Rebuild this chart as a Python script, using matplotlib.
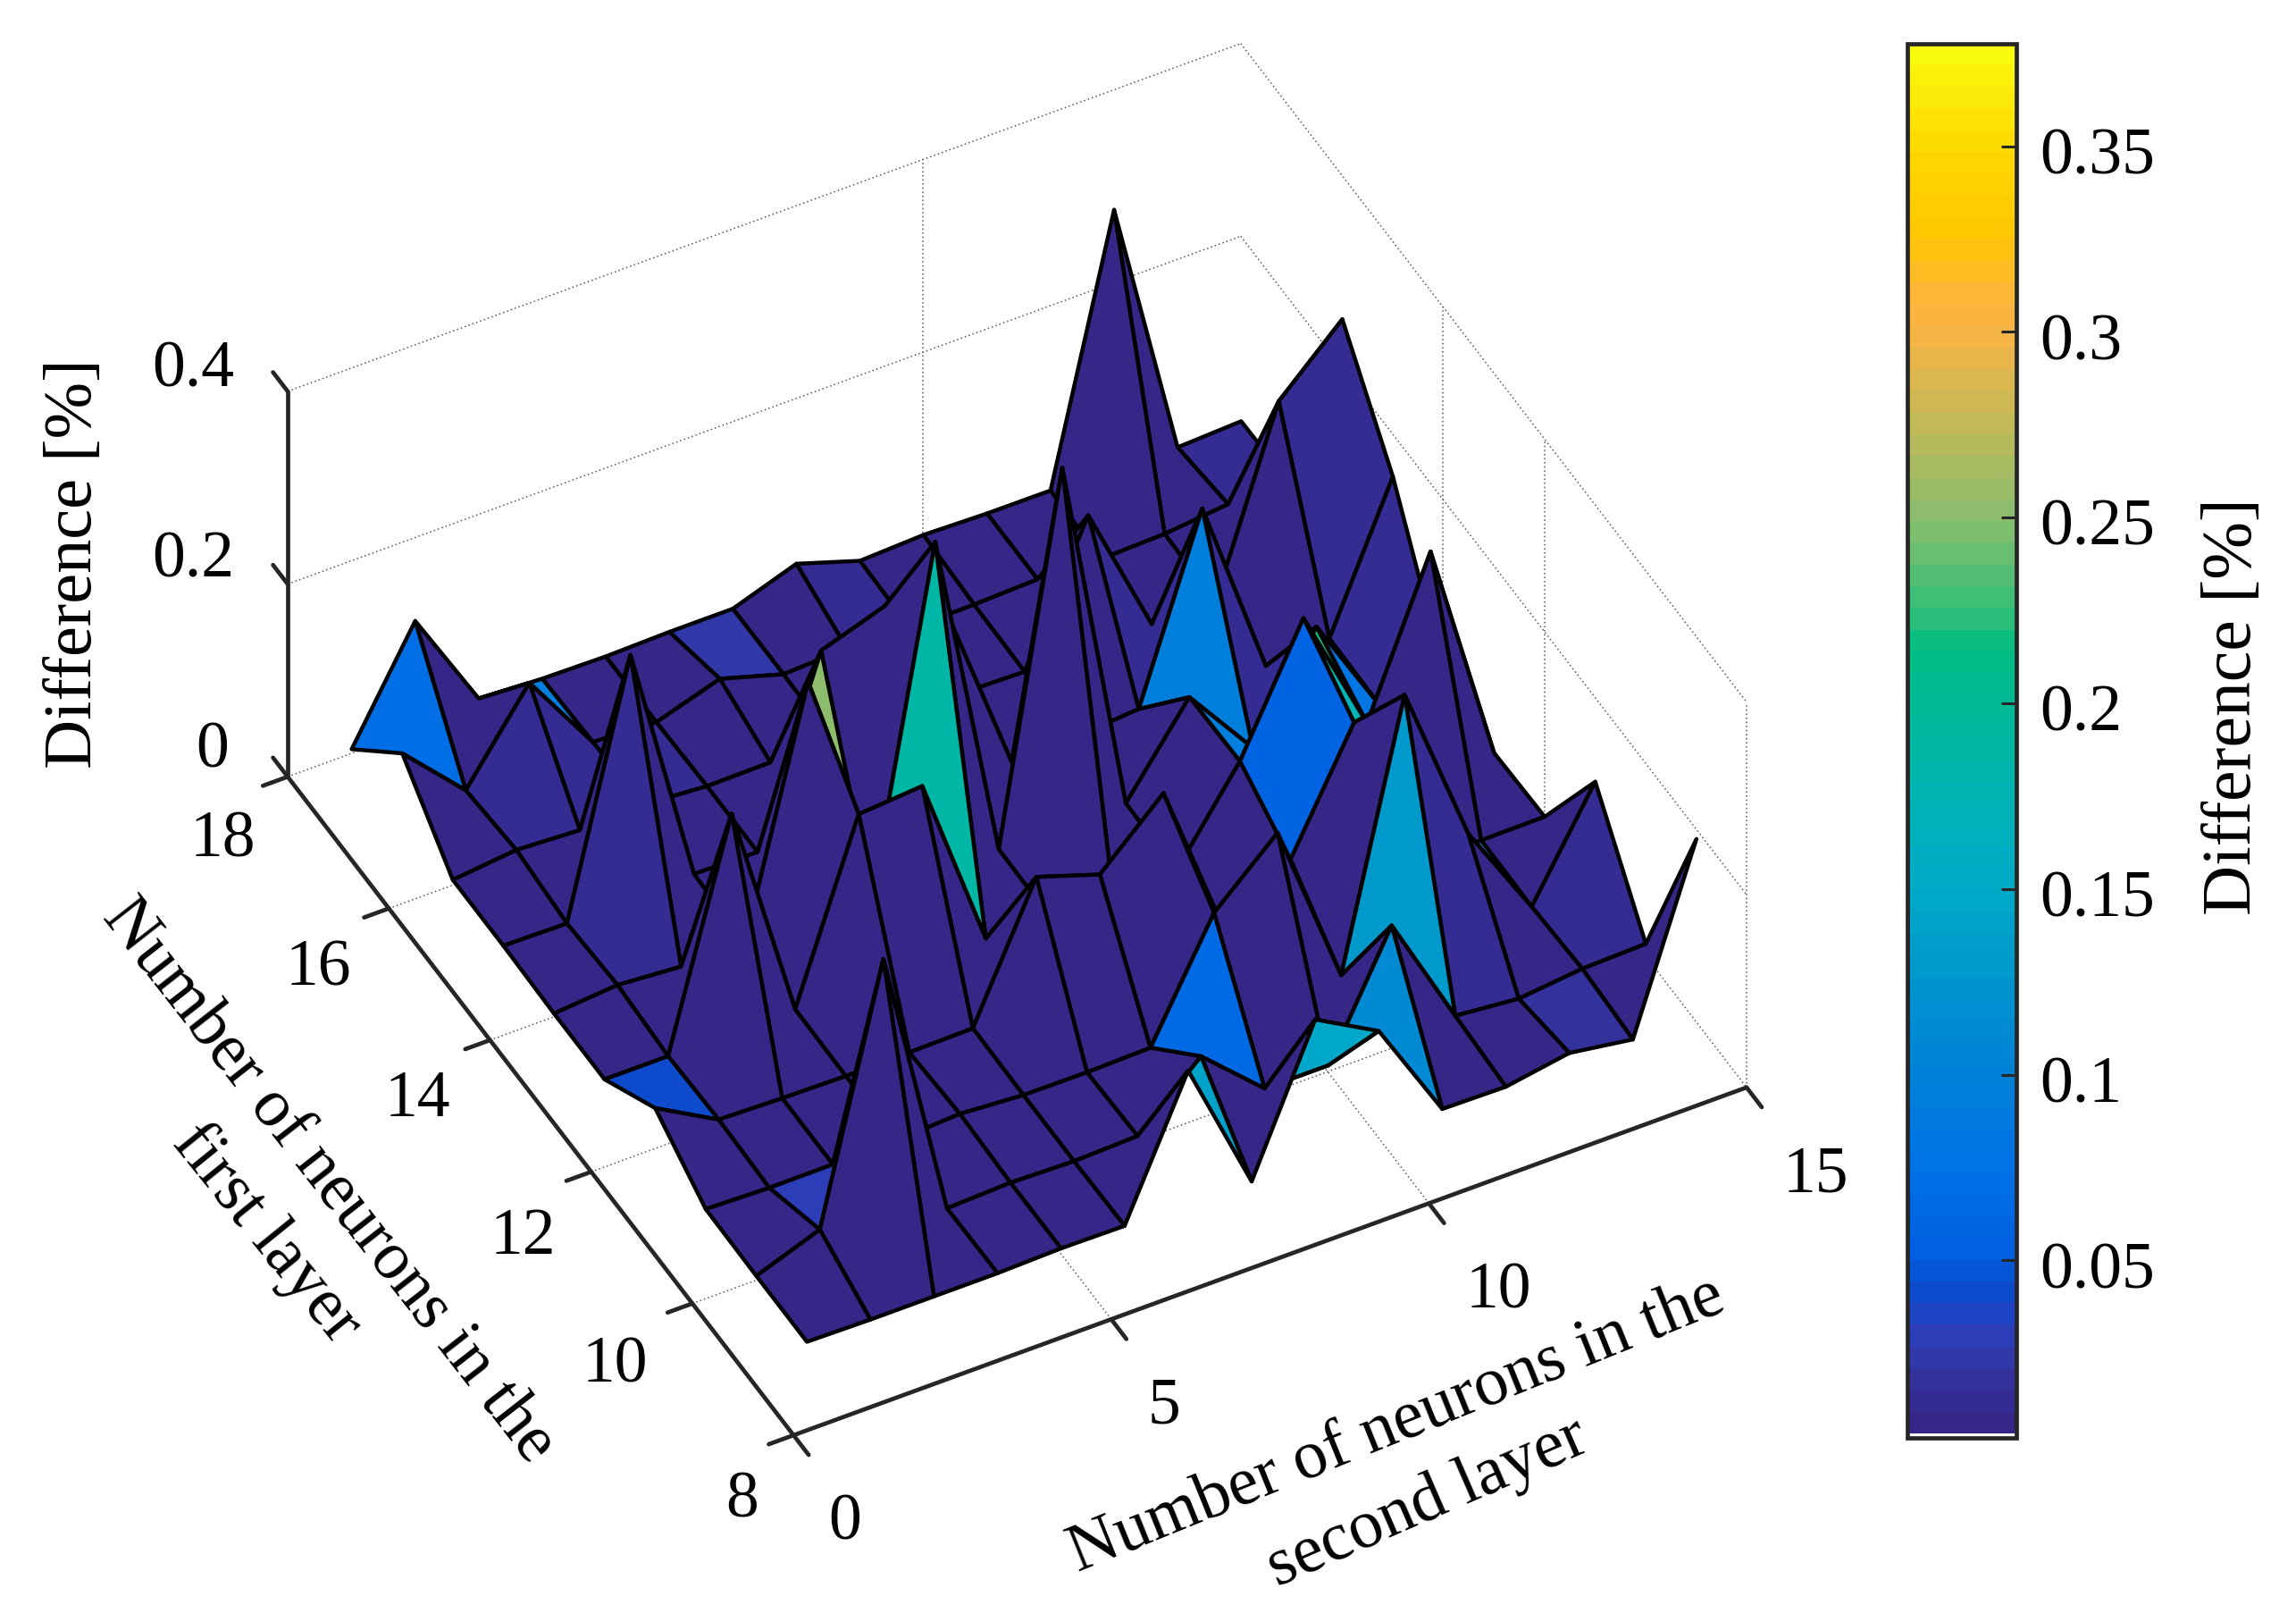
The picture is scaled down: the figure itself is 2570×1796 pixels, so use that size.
import numpy as np
import matplotlib
matplotlib.use("Agg")
import matplotlib.pyplot as plt
from matplotlib.colors import LinearSegmentedColormap, Normalize
from matplotlib.cm import ScalarMappable
from matplotlib.transforms import ScaledTranslation
from mpl_toolkits.mplot3d import proj3d

plt.rcParams['font.family'] = ['Liberation Serif', 'DejaVu Serif']

# neurons in second layer (columns) and first layer (rows)
second_layer = [1, 2, 3, 4, 5, 6, 7, 8, 9, 10, 11, 12, 13, 14, 15]
first_layer = [9, 10, 11, 12, 13, 14, 15, 16, 17, 18]

row_09 = [.005, .004, .004, .004, .0057, .005, .142, .003, .147, .111, .006, .005, .016, .006, .19]
row_10 = [.005, .029, .2856, .003, .0055, .0037, .0058, .0645, .007, .007, .128, .0103, .004, .011, .0128]
row_11 = [.006, .004, .0043, .005, .0086, .004, .0036, .005, .121, .18, .008, .275, .107, .007, .1127]
row_12 = [.0425, .0065, .0046, .0035, .004, .005, .138, .1165, .1768, .005, .0598, .178, .006, .0076, .008]
row_13 = [.004, .004, .2315, .0045, .183, .188, .0057, .005, .005, .004, .0935, .218, .085, .239, .006]
row_14 = [.004, .0095, .0046, .005, .252, .005, .349, .006, .378, .0056, .0917, .015, .1167, .0106, .023]
row_15 = [.006, .005, .2596, .0083, .007, .192, .214, .18, .004, .006, .011, .195, .0076, .012, .156]
row_16 = [.006, .013, .0095, .012, .007, .0077, .005, .006, .007, .0055, .1437, .0067, .006, .19, .251]
row_17 = [.069, .0066, .094, .0085, .005, .026, .0067, .0095, .006, .0068, .009, .006, .008, .0148, .0098]
row_18 = [.005, .114, .0095, .006, .005, .0064, .0064, .029, .008, .0108, .009, .0088, .276, .0055, .0085]
difference = [row_09, row_10, row_11, row_12, row_13, row_14, row_15, row_16, row_17, row_18]

x_ticks = [0, 5, 10, 15]
y_ticks = [8, 10, 12, 14, 16, 18]
z_ticks = [0, 0.2, 0.4]
cbar_ticks = [0.05, 0.1, 0.15, 0.2, 0.25, 0.3, 0.35]
cbar_labels = ['0.05', '0.1', '0.15', '0.2', '0.25', '0.3', '0.35']

# colour bar
cmap_values = [.0034, .02, .03, .04, .05, .075, .1, .125, .15, .175, .2, .215, .225, .25, .275, .3, .31, .33, .35, .3777]
cmap_rgb = [(53, 38, 135), (50, 55, 165), (40, 65, 190), (10, 75, 205), (0, 95, 225), (0, 115, 230),
            (0, 130, 215), (0, 150, 205), (0, 170, 200), (0, 180, 180), (0, 185, 150), (0, 190, 130),
            (50, 190, 120), (135, 190, 110), (190, 185, 90), (245, 180, 70), (255, 180, 60),
            (255, 200, 0), (255, 215, 0), (248, 250, 14)]

W, H = 2570, 1796
FS = 53
FS_LABEL = 55
AXC = '#262626'


def fig_text(px, py, s, **kw):
    kw.setdefault('fontsize', FS)
    kw.setdefault('ha', 'center')
    kw.setdefault('va', 'center')
    fig.text(px / W, 1 - py / H, s, **kw)


def to_px(ax, x, y, z):
    ax.apply_aspect()
    X, Y, _ = proj3d.proj_transform(x, y, z, ax.get_proj())
    p = ax.transData.transform((X, Y))
    return p[0], H - p[1]


vmin, vmax = cmap_values[0], cmap_values[-1]
stops = [(v - vmin) / (vmax - vmin) for v in cmap_values]
cols = [(r / 255, g / 255, b / 255) for r, g, b in cmap_rgb]
parula = LinearSegmentedColormap.from_list('parula_like', list(zip(stops, cols)), N=64)
norm = Normalize(vmin, vmax)

fig = plt.figure(figsize=(W / 100, H / 100), dpi=100)

size = 1600
ax = fig.add_axes([300 / W, 100 / H, size / W, size / H], projection='3d', proj_type='ortho')
ax.view_init(elev=43.55, azim=-117.9)
ax.set_box_aspect((1207, 1210, 595))
ax.set_xlim(0, 15)
ax.set_ylim(8, 18)
ax.set_zlim(0, 0.4)
ax.set_axis_off()
ax.computed_zorder = False

# fit the box to the corners in the picture
pa = to_px(ax, 0, 18, 0)
pc = to_px(ax, 15, 8, 0)
size = size * (1955 - 322) / (pc[0] - pa[0])
ax.set_position([300 / W, 100 / H, size / W, size / H])
pa = to_px(ax, 0, 18, 0)
pc = to_px(ax, 15, 8, 0)
dx = (322 + 1955) / 2 - (pa[0] + pc[0]) / 2
dy = (869 + 1217) / 2 - (pa[1] + pc[1]) / 2
ax.set_position([(300 + dx) / W, (100 - dy) / H, size / W, size / H])

X, Y = np.meshgrid(second_layer, first_layer)
Z = np.array(difference)

# grid lines first, underneath the surface
grid_kw = dict(color='#555555', lw=1.1, ls=(0, (1, 2)), zorder=1)
for z in z_ticks[1:]:
    ax.plot([0, 15], [18, 18], [z, z], **grid_kw)
    ax.plot([15, 15], [18, 8], [z, z], **grid_kw)
ax.plot([0, 15], [18, 18], [0, 0], **grid_kw)
ax.plot([15, 15], [18, 8], [0, 0], **grid_kw)
for y in y_ticks[1:-1]:
    ax.plot([0, 15], [y, y], [0, 0], **grid_kw)
for x in x_ticks[1:-1]:
    ax.plot([x, x], [8, 18], [0, 0], **grid_kw)
ax.plot([10, 10], [18, 18], [0, 0.4], **grid_kw)
for y in [12, 14]:
    ax.plot([15, 15], [y, y], [0, 0.4], **grid_kw)
ax.plot([15, 15], [8, 8], [0, 0.4], **grid_kw)

# box lines and ticks
line_kw = dict(color=AXC, lw=3.4, zorder=2, solid_capstyle='round')
ax.plot([0, 15], [8, 8], [0, 0], **line_kw)
ax.plot([0, 0], [8, 18], [0, 0], **line_kw)
ax.plot([0, 0], [18, 18], [0, 0.4], **line_kw)
for x in x_ticks:
    ax.plot([x, x], [8, 7.7], [0, 0], **line_kw)
for y in y_ticks:
    ax.plot([0, -0.39], [y, y], [0, 0], **line_kw)
for z in z_ticks:
    ax.plot([0, 0], [18, 18.29], [z, z], **line_kw)

# flat colouring, each face takes the value of its first corner
# faces drawn one by one from the far corner of the grid so the hiding comes out right
face_cols = parula(norm(Z))
order = 10
for r in range(Z.shape[0] - 2, -1, -1):
    for c in range(Z.shape[1] - 2, -1, -1):
        s = ax.plot_surface(X[r:r + 2, c:c + 2], Y[r:r + 2, c:c + 2], Z[r:r + 2, c:c + 2],
                            color=face_cols[r, c], rstride=1, cstride=1, shade=False, zorder=order)
        s.set_edgecolor('black')
        s.set_linewidth(3.2)
        order += 1

# tick labels
fig_text(216, 415, '0.4')
fig_text(216, 628, '0.2')
fig_text(238, 841, '0')
for s, (px, py) in zip(['18', '16', '14', '12', '10', '8'],
                       [(249, 941), (356, 1085), (467, 1231), (585, 1385), (688, 1529), (831, 1680)]):
    fig_text(px, py, s)
for s, (px, py) in zip(['0', '5', '10', '15'],
                       [(946, 1705), (1303, 1575), (1677, 1446), (2032, 1316)]):
    fig_text(px, py, s)

fig_text(83, 631, 'Difference [%]', rotation=90, fontsize=FS_LABEL)
fig_text(368, 1322, 'Number of neurons in the', rotation=-52, rotation_mode='anchor', fontsize=54.5)
fig_text(298, 1381, 'first layer', rotation=-51, rotation_mode='anchor', fontsize=54.5)
fig_text(1563, 1595, 'Number of neurons in the', rotation=22, rotation_mode='anchor', fontsize=FS_LABEL)
fig_text(1598, 1682, 'second layer', rotation=23.5, rotation_mode='anchor', fontsize=FS_LABEL)

# colour bar
cax = fig.add_axes([2135 / W, 1 - 1608.5 / H, (2257 - 2135) / W, (1608.5 - 48.5) / H])
cb = fig.colorbar(ScalarMappable(norm=norm, cmap=parula), cax=cax)
cax.set_ylim(.0023, vmax)
cb.set_ticks(cbar_ticks)
cb.set_ticklabels(cbar_labels)
cax.tick_params(axis='y', which='major', direction='in', length=12, width=2.2, color=AXC,
                labelsize=FS, pad=19)
cax.minorticks_off()
cb.outline.set_linewidth(3.4)
cb.outline.set_edgecolor(AXC)
cax.set_facecolor('white')
shift = ScaledTranslation(0, -5 / 100, fig.dpi_scale_trans)
for lab in cax.get_yticklabels():
    lab.set_transform(lab.get_transform() + shift)
fig_text(2500, 791, 'Difference [%]', rotation=90, fontsize=56)

fig.savefig('out.png', dpi=100)
